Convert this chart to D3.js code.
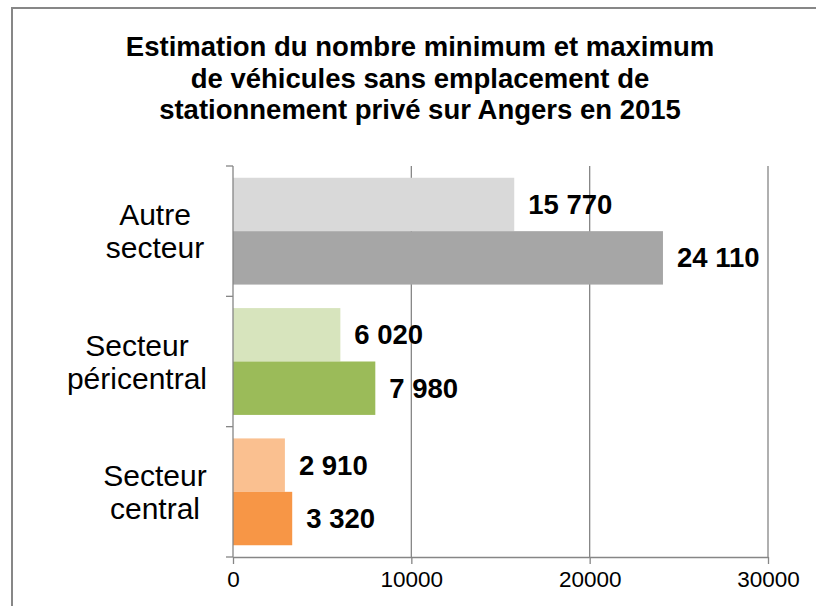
<!DOCTYPE html>
<html lang="fr">
<head>
<meta charset="UTF-8">
<title>Véhicules sans emplacement de stationnement privé - Angers 2015</title>
<style>
    body { margin: 0; background: #fff; }
    svg { display: block; font-family: "Liberation Sans", Arial, sans-serif; }
</style>
</head>
<body>
<svg width="816" height="606"></svg>
<script src="https://d3js.org/d3.v7.min.js"></script>
<script>
    // data
    var titleLines = [
        "Estimation du nombre minimum et maximum",
        "de véhicules sans emplacement de",
        "stationnement privé sur Angers en 2015"
    ];
    var categories = ["Autre secteur", "Secteur péricentral", "Secteur central"];
    var categoryLines = [["Autre", "secteur"], ["Secteur", "péricentral"], ["Secteur", "central"]];
    var minValues = [15770, 6020, 2910];
    var maxValues = [24110, 7980, 3320];
    var lightColors = ["#d9d9d9", "#d7e4bd", "#fac090"];
    var darkColors = ["#a6a6a6", "#9bbb59", "#f79646"];
    var xTicks = [0, 10000, 20000, 30000];

    var svg = d3.select("svg");
    var axisColor = "#868686";

    // outer frame
    svg.append("rect")
        .attr("x", 12).attr("y", 8)
        .attr("width", 830).attr("height", 620)
        .attr("fill", "none")
        .attr("stroke", "#878787")
        .attr("stroke-width", 2);

    // title
    svg.append("g").selectAll("text")
        .data(titleLines)
        .join("text")
        .attr("x", 420)
        .attr("y", function (d, i) { return 56 + i * 31.5; })
        .attr("text-anchor", "middle")
        .attr("font-size", 27.5)
        .attr("font-weight", "bold")
        .attr("fill", "#000")
        .text(function (d) { return d; });

    var plotLeft = 233, plotRight = 768, plotTop = 166, plotBottom = 557;

    var x = d3.scaleLinear().domain([0, 30000]).range([plotLeft, plotRight]);
    var y = d3.scaleBand().domain(categories).range([plotTop, plotBottom]).padding(0);
    var sub = d3.scaleBand().domain(["min", "max"]).range([0, y.bandwidth()])
        .paddingInner(0).paddingOuter(0.22);

    // vertical gridlines
    svg.append("g").selectAll("line")
        .data(xTicks.slice(1))
        .join("line")
        .attr("x1", function (d) { return x(d); })
        .attr("x2", function (d) { return x(d); })
        .attr("y1", plotTop).attr("y2", plotBottom)
        .attr("stroke", axisColor)
        .attr("stroke-width", 1.3);

    // bars
    var rows = categories.map(function (c, i) {
        return { cat: c, i: i, min: minValues[i], max: maxValues[i] };
    });
    var bars = [];
    rows.forEach(function (r) {
        bars.push({ cat: r.cat, key: "min", v: r.min, color: lightColors[r.i] });
        bars.push({ cat: r.cat, key: "max", v: r.max, color: darkColors[r.i] });
    });

    svg.append("g").selectAll("rect")
        .data(bars)
        .join("rect")
        .attr("x", x(0))
        .attr("y", function (d) { return y(d.cat) + sub(d.key); })
        .attr("width", function (d) { return x(d.v) - x(0); })
        .attr("height", sub.bandwidth())
        .attr("fill", function (d) { return d.color; });

    // value labels
    var fr = d3.formatLocale({ decimal: ",", thousands: " ", grouping: [3], currency: ["", " €"] });
    var fmt = fr.format(",d");
    svg.append("g").selectAll("text")
        .data(bars)
        .join("text")
        .attr("x", function (d) { return x(d.v) + 14; })
        .attr("y", function (d) { return y(d.cat) + sub(d.key) + sub.bandwidth() / 2; })
        .attr("dy", "0.35em")
        .attr("font-size", 27.5)
        .attr("font-weight", "bold")
        .attr("fill", "#000")
        .text(function (d) { return fmt(d.v); });

    // x axis
    var xAxis = d3.axisBottom(x).tickValues(xTicks).tickFormat(d3.format("d"))
        .tickSizeInner(7).tickSizeOuter(0);
    var gx = svg.append("g")
        .attr("transform", "translate(0," + plotBottom + ")")
        .call(xAxis);
    gx.select(".domain").attr("stroke", axisColor).attr("stroke-width", 1.3);
    gx.selectAll(".tick line").attr("stroke", axisColor).attr("stroke-width", 1.3);
    gx.selectAll(".tick text")
        .attr("font-family", "Liberation Sans, Arial, sans-serif")
        .attr("font-size", 22.5)
        .attr("fill", "#000")
        .attr("y", 14)
        .attr("dy", "0.71em");

    // y axis: line with tick marks at category boundaries
    var gy = svg.append("g");
    gy.append("line")
        .attr("x1", plotLeft).attr("x2", plotLeft)
        .attr("y1", plotTop).attr("y2", plotBottom)
        .attr("stroke", axisColor).attr("stroke-width", 1.3);
    var bounds = categories.map(function (c) { return y(c); }).concat([plotBottom]);
    gy.selectAll(".btick")
        .data(bounds)
        .join("line")
        .attr("class", "btick")
        .attr("x1", plotLeft - 7).attr("x2", plotLeft)
        .attr("y1", function (d) { return d; })
        .attr("y2", function (d) { return d; })
        .attr("stroke", axisColor).attr("stroke-width", 1.3);

    // category labels, two lines, centred, shifted left if too wide
    var catFont = 30;
    var labels = svg.append("g");
    categories.forEach(function (c, i) {
        var cy = y(c) + y.bandwidth() / 2;
        var t = labels.append("text")
            .attr("text-anchor", "middle")
            .attr("font-size", catFont)
            .attr("fill", "#000");
        categoryLines[i].forEach(function (line, j) {
            t.append("tspan")
                .attr("x", 0)
                .attr("y", cy - 6 + j * 33)
                .text(line);
        });
        var w = t.node().getBBox().width;
        var cx = Math.min(155, 207 - w / 2);
        t.selectAll("tspan").attr("x", cx);
    });
</script>
</body>
</html>
